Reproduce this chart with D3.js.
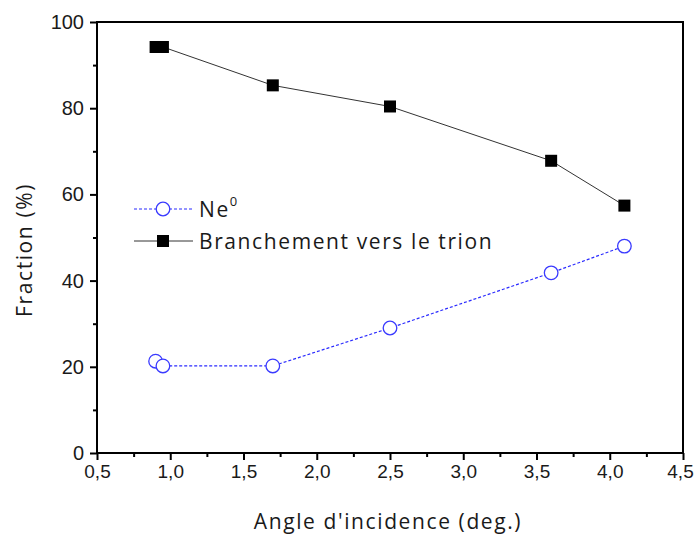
<!DOCTYPE html>
<html>
<head>
<meta charset="utf-8">
<script src="https://cdn.jsdelivr.net/npm/d3@7"></script>
<style>
  html, body { margin: 0; padding: 0; background: #fff; }
  svg { display: block; }
  text { fill: #1a1a1a; }
  .lbl { font-family: "Open Sans", "Noto Sans", sans-serif; letter-spacing: 1.6px; }
  .tk { font-family: "Liberation Sans", Arial, sans-serif; }
</style>
</head>
<body>
<svg id="chart" width="695" height="534"></svg>
<script>
// Angle of incidence (deg.)
const angles = [0.9, 0.95, 1.7, 2.5, 3.6, 4.1];
// Neutral fraction Ne0 (%)
const neutral = [21.3, 20.2, 20.2, 29.0, 41.8, 48.0];
// Branching toward the trion (%)
const trion = [94.2, 94.2, 85.3, 80.4, 67.8, 57.4];

const xTicks = [0.5, 1.0, 1.5, 2.0, 2.5, 3.0, 3.5, 4.0, 4.5];
const yTicks = [0, 20, 40, 60, 80, 100];

const svg = d3.select("#chart");
const margin = { left: 97, right: 12, top: 22, bottom: 81 };
const W = 695, H = 534;

const x = d3.scaleLinear().domain([0.5, 4.5]).range([margin.left, W - margin.right]);
const y = d3.scaleLinear().domain([0, 100]).range([H - margin.bottom, margin.top]);

const fmt = d => d3.format(".1f")(d).replace(".", ",");

// frame
svg.append("rect")
  .attr("x", x(0.5)).attr("y", y(100))
  .attr("width", x(4.5) - x(0.5)).attr("height", y(0) - y(100))
  .attr("fill", "none").attr("stroke", "#000").attr("stroke-width", 2);

// minor ticks
svg.append("g").attr("transform", `translate(0,${y(0)})`)
  .call(d3.axisBottom(x).tickValues(d3.range(0.75, 4.5, 0.5)).tickSize(4).tickFormat(""))
  .call(g => g.select(".domain").remove());
svg.append("g").attr("transform", `translate(${x(0.5)},0)`)
  .call(d3.axisLeft(y).tickValues(d3.range(10, 100, 20)).tickSize(4).tickFormat(""))
  .call(g => g.select(".domain").remove());

// major ticks
svg.append("g").attr("transform", `translate(0,${y(0)})`)
  .call(d3.axisBottom(x).tickValues(xTicks).tickSize(7).tickPadding(5).tickFormat(fmt))
  .call(g => g.select(".domain").remove())
  .call(g => g.selectAll("text").attr("class", "tk").style("font-size", "19px").attr("fill", "#1a1a1a")
    .attr("dx", d => d === 4.5 ? -3 : 0));
svg.append("g").attr("transform", `translate(${x(0.5)},0)`)
  .call(d3.axisLeft(y).tickValues(yTicks).tickSize(7).tickPadding(6))
  .call(g => g.select(".domain").remove())
  .call(g => g.selectAll("text").attr("class", "tk").style("font-size", "20px").attr("fill", "#1a1a1a"));
svg.selectAll(".tick line").attr("stroke", "#000").attr("stroke-width", 2);

// axis titles
svg.append("text").attr("class", "lbl").attr("x", 388).attr("y", 529).attr("text-anchor", "middle")
  .style("font-size", "21px").text("Angle d'incidence (deg.)");
svg.append("text").attr("class", "lbl").attr("transform", "translate(32,250) rotate(-90)").attr("text-anchor", "middle")
  .style("font-size", "21px").text("Fraction (%)");

const ptsN = angles.map((a, i) => [a, neutral[i]]);
const ptsT = angles.map((a, i) => [a, trion[i]]);
const line = d3.line().x(d => x(d[0])).y(d => y(d[1]));

// Ne0 series
svg.append("path").attr("d", line(ptsN)).attr("fill", "none")
  .attr("stroke", "#2b2bff").attr("stroke-width", 1.2).attr("stroke-dasharray", "3,2");
svg.append("g").selectAll("circle").data(ptsN).join("circle")
  .attr("cx", d => x(d[0])).attr("cy", d => y(d[1])).attr("r", 6.8)
  .attr("fill", "#fff").attr("stroke", "#3a3aff").attr("stroke-width", 1.3);

// trion series
svg.append("path").attr("d", line(ptsT)).attr("fill", "none")
  .attr("stroke", "#333").attr("stroke-width", 1);
const sq = 12;
svg.append("g").selectAll("rect").data(ptsT).join("rect")
  .attr("x", d => x(d[0]) - sq / 2).attr("y", d => y(d[1]) - sq / 2)
  .attr("width", sq).attr("height", sq).attr("fill", "#000");

// legend
const lg = svg.append("g");
lg.append("line").attr("x1", 134).attr("x2", 193).attr("y1", 209).attr("y2", 209)
  .attr("stroke", "#2b2bff").attr("stroke-width", 1.2).attr("stroke-dasharray", "3,2");
lg.append("circle").attr("cx", 163).attr("cy", 209).attr("r", 6.8)
  .attr("fill", "#fff").attr("stroke", "#3a3aff").attr("stroke-width", 1.3);
const t1 = lg.append("text").attr("class", "lbl").attr("x", 199).attr("y", 217).style("font-size", "21px");
t1.append("tspan").text("Ne");
t1.append("tspan").attr("dy", -11).style("font-size", "13px").text("0");
lg.append("line").attr("x1", 134).attr("x2", 193).attr("y1", 241).attr("y2", 241)
  .attr("stroke", "#333").attr("stroke-width", 1);
lg.append("rect").attr("x", 163 - sq / 2).attr("y", 241 - sq / 2).attr("width", sq).attr("height", sq).attr("fill", "#000");
lg.append("text").attr("class", "lbl").attr("x", 199).attr("y", 249).style("font-size", "21px").text("Branchement vers le trion");
</script>
</body>
</html>
